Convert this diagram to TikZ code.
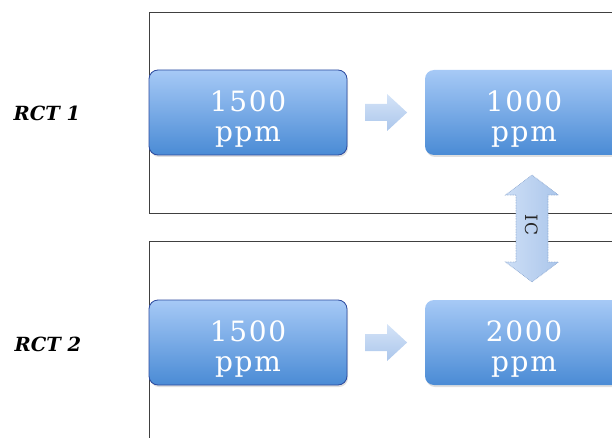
\documentclass[tikz,border=0pt]{standalone}
\usepackage{fontspec}
\setmainfont{Liberation Serif}
\newfontfamily\labelfont{DejaVu Serif}
\newfontfamily\boxfont[LetterSpace=6]{DejaVu Serif}
\usetikzlibrary{shadows,calc}
\definecolor{boxtop}{HTML}{A6C9F6}
\definecolor{boxbottom}{HTML}{4A8BD5}
\definecolor{boxedge}{HTML}{2C4A9E}
\definecolor{arrtop}{HTML}{D5E4F8}
\definecolor{arrbottom}{HTML}{ABC6EB}
\definecolor{arredge}{HTML}{7E9CC8}
\newcommand{\lowered}{\rule{0pt}{34pt}}
\tikzset{
  frame/.style={draw=black!75, line width=0.6pt},
  ppmbox/.style={rectangle, rounded corners=9pt, minimum width=198pt,
    minimum height=85pt, top color=boxtop, bottom color=boxbottom,
    text=white, align=center, inner sep=0pt,
    font=\boxfont\fontsize{28}{30}\selectfont,
    drop shadow={opacity=0.25, shadow xshift=1pt, shadow yshift=-2pt}},
  blockarrow/.style={top color=arrtop, bottom color=arrbottom, draw=none},
  icarrow/.style={left color=arrtop!80!arrbottom, right color=arrbottom,
    draw=arredge, densely dotted, line width=0.6pt},
  rctlabel/.style={font=\labelfont\bfseries\itshape\fontsize{19.5}{22}\selectfont}
}
\begin{document}
\begin{tikzpicture}[x=1pt,y=1pt]
\useasboundingbox (0,0) rectangle (612,437);
\begin{scope}
\clip (0,0) rectangle (612,437);
% group frames
\draw[frame] (640,425) -| (149,224) -- (640,224);
\draw[frame] (640,196) -| (149,-5);

% concentration boxes
\node[ppmbox, draw=boxedge, line width=0.8pt] (a1) at (248,324.5) {\lowered 1500\\ppm};
\node[ppmbox] (b1) at (524,324.5) {\lowered 1000\\ppm};
\node[ppmbox, draw=boxedge, line width=0.8pt] (a2) at (248,94.5) {\lowered 1500\\ppm};
\node[ppmbox] (b2) at (524,94.5) {\lowered 2000\\ppm};

% block arrows between boxes
\coordinate (m1) at ($(a1.east)!0.5!(b1.west)$);
\coordinate (m2) at ($(a2.east)!0.5!(b2.west)$);
\foreach \m in {m1,m2}
  \path[blockarrow] (\m) ++(-21,-8.5) -- ++(22,0) -- ++(0,-10) -- ++(20,18.5)
    -- ++(-20,18.5) -- ++(0,-10) -- ++(-22,0) -- cycle;

% crossover arrow
\coordinate (icc) at (532,208.5);
\path[icarrow] (icc) ++(0,53.5) -- ++(26.5,-20) -- ++(-10.5,0) -- ++(0,-67)
  -- ++(10.5,0) -- ++(-26.5,-20) -- ++(-26.5,20) -- ++(10.5,0) -- ++(0,67)
  -- ++(-10.5,0) -- cycle;
\node[rotate=-90, text=black!85, font=\boxfont\fontsize{17}{20}\selectfont] (ic) at (532,212) {IC};

% group labels
\node[rctlabel] (r1) at (47,324) {RCT 1};
\node[rctlabel] (r2) at (48,93) {RCT 2};
\end{scope}
\end{tikzpicture}
\end{document}
